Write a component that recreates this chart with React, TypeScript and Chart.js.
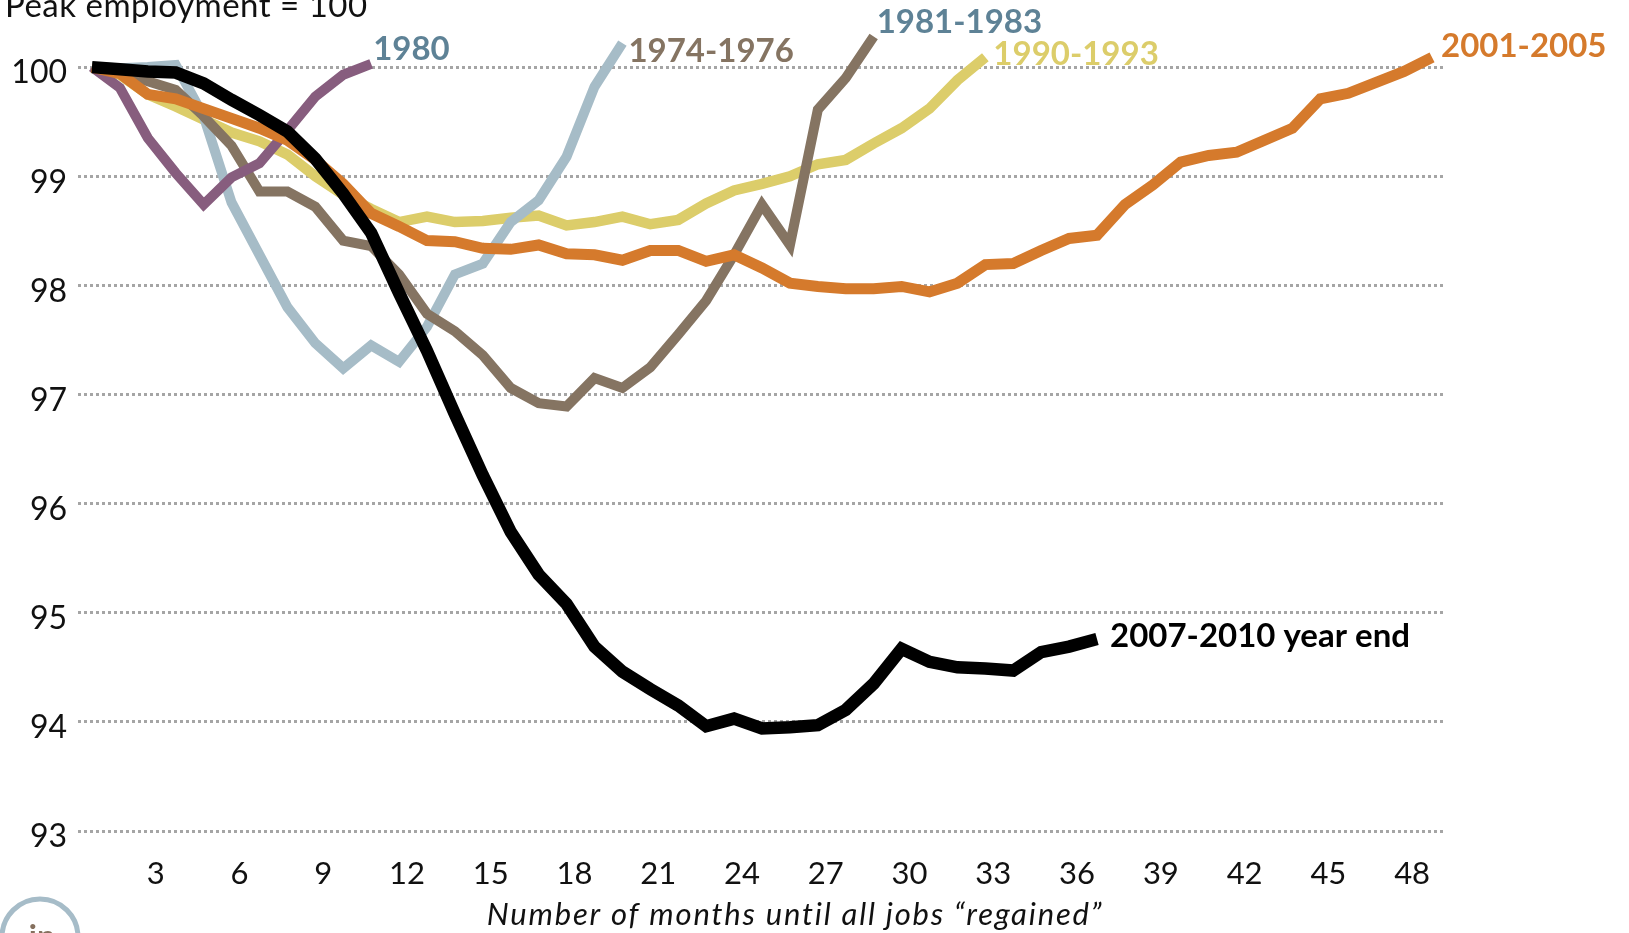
import React, { useEffect, useRef } from "react";
import { Chart, registerables } from "chart.js";

Chart.register(...registerables);

// ---------- data ----------
const months = [1, 2, 3, 4, 5, 6, 7, 8, 9, 10, 11, 12, 13, 14, 15, 16, 17, 18, 19, 20, 21, 22, 23, 24, 25, 26, 27, 28, 29, 30, 31, 32, 33, 34, 35, 36, 37, 38, 39, 40, 41, 42, 43, 44, 45, 46, 47, 48, 49];
const xTickValues = [3, 6, 9, 12, 15, 18, 21, 24, 27, 30, 33, 36, 39, 42, 45, 48];
const yTickValues = [93, 94, 95, 96, 97, 98, 99, 100];

const rec2007 = [100, 99.98, 99.96, 99.95, 99.85, 99.7, 99.56, 99.41, 99.16, 98.84, 98.48, 97.93, 97.4, 96.82, 96.26, 95.74, 95.35, 95.08, 94.69, 94.46, 94.3, 94.15, 93.96, 94.03, 93.94, 93.95, 93.97, 94.11, 94.35, 94.67, 94.55, 94.5, 94.49, 94.47, 94.64, 94.69, 94.76];
const rec2001 = [100, 99.94, 99.75, 99.71, 99.62, 99.53, 99.44, 99.33, 99.15, 98.93, 98.66, 98.54, 98.41, 98.4, 98.34, 98.33, 98.37, 98.29, 98.28, 98.23, 98.32, 98.32, 98.22, 98.28, 98.16, 98.02, 97.99, 97.97, 97.97, 97.99, 97.94, 98.02, 98.19, 98.2, 98.32, 98.43, 98.46, 98.74, 98.92, 99.13, 99.19, 99.22, 99.33, 99.44, 99.71, 99.76, 99.86, 99.96, 100.09];
const rec1980 = [100, 99.81, 99.35, 99.03, 98.74, 98.99, 99.12, 99.42, 99.73, 99.93, 100.03];
const rec1981 = [100, 99.95, 99.87, 99.79, 99.55, 99.28, 98.86, 98.86, 98.72, 98.41, 98.36, 98.1, 97.74, 97.58, 97.36, 97.06, 96.92, 96.89, 97.15, 97.06, 97.25, 97.55, 97.86, 98.28, 98.74, 98.37, 99.61, 99.9, 100.28];
const rec1974 = [100, 99.99, 100.0, 100.02, 99.55, 98.76, 98.28, 97.8, 97.47, 97.24, 97.45, 97.3, 97.62, 98.1, 98.2, 98.58, 98.78, 99.18, 99.82, 100.22];
const rec1990 = [100, 99.93, 99.75, 99.64, 99.52, 99.4, 99.32, 99.2, 99.0, 98.83, 98.7, 98.58, 98.63, 98.58, 98.59, 98.62, 98.64, 98.55, 98.58, 98.63, 98.56, 98.6, 98.75, 98.87, 98.93, 99.0, 99.11, 99.15, 99.3, 99.44, 99.62, 99.88, 100.09];

const seriesNames = ["2007-2010 year end", "2001-2005", "1980", "1981-1983", "1974-1976", "1990-1993"];
const seriesValues = [rec2007, rec2001, rec1980, rec1981, rec1974, rec1990];

// ---------- styles ----------
const lineColors = ["#000000", "#d57a2c", "#875d7e", "#857462", "#a6bcc7", "#dccd6a"];
const lineWidths = [12.5, 11, 10, 10, 10, 10.5];
const labelColors = ["#000000", "#d57a2c", "#5e8296", "#5e8296", "#857462", "#dccd6a"];
// label offset from the series end point (px): [dx, dy to baseline]
const labelOffsets: [number, number][] = [
  [13, 8],
  [9, -0.5],
  [2, -3.7],
  [3, -3.2],
  [6, 18.7],
  [8, 8],
];

const FONT = "Lato, 'Noto Sans', sans-serif";

const textPlugin = {
  id: "customText",
  afterDraw(chart: any) {
    const ctx = chart.ctx;
    const xs = chart.scales.x;
    const ys = chart.scales.y;
    const area = chart.chartArea;
    ctx.save();
    // series labels
    ctx.textAlign = "left";
    ctx.textBaseline = "alphabetic";
    ctx.font = `bold 33px ${FONT}`;
    seriesValues.forEach((vals, i) => {
      const last = vals.length - 1;
      const px = xs.getPixelForValue(months[last]);
      const py = ys.getPixelForValue(vals[last]);
      ctx.fillStyle = labelColors[i];
      ctx.fillText(seriesNames[i], px + labelOffsets[i][0], py + labelOffsets[i][1]);
    });
    // top-left unit note
    ctx.font = `33px ${FONT}`;
    ctx.fillStyle = "#111111";
    (ctx as any).letterSpacing = "0.5px";
    ctx.fillText("Peak employment = 100", 5, 17);
    // x axis title
    ctx.font = `italic 31px ${FONT}`;
    (ctx as any).letterSpacing = "1.8px";
    ctx.textAlign = "center";
    ctx.fillText("Number of months until all jobs \u201cregained\u201d", (area.left + area.right) / 2 + 33, 925);
    (ctx as any).letterSpacing = "0px";
    // logo
    ctx.beginPath();
    ctx.arc(40, 937, 38, 0, Math.PI * 2);
    ctx.lineWidth = 5;
    ctx.strokeStyle = "#a6bcc8";
    ctx.stroke();
    ctx.font = `bold 32px ${FONT}`;
    ctx.fillStyle = "#85705e";
    ctx.fillText("ip", 42, 948);
    ctx.restore();
  },
};

export default function App() {
  const ref = useRef<HTMLCanvasElement | null>(null);

  useEffect(() => {
    if (!ref.current) return;
    const datasets = seriesValues.map((vals, i) => ({
      label: seriesNames[i],
      data: vals.map((v, j) => ({ x: months[j], y: v })),
      borderColor: lineColors[i],
      backgroundColor: lineColors[i],
      borderWidth: lineWidths[i],
      pointRadius: 0,
      tension: 0,
      borderJoinStyle: "miter" as const,
      borderCapStyle: "butt" as const,
      fill: false,
      clip: false as any,
    }));

    const chart = new Chart(ref.current, {
      type: "line",
      data: { datasets },
      options: {
        animation: false,
        responsive: false,
        layout: { padding: { top: 18, right: 183, left: 0, bottom: 0 } },
        plugins: { legend: { display: false }, tooltip: { enabled: false }, title: { display: false } },
        scales: {
          x: {
            type: "linear",
            min: 0.5,
            max: 49.5,
            afterBuildTicks: (scale: any) => {
              scale.ticks = xTickValues.map((v) => ({ value: v }));
            },
            afterFit: (scale: any) => {
              scale.height = 102;
              scale.paddingLeft = 0;
              scale.paddingRight = 0;
            },
            grid: { display: false, drawTicks: false },
            border: { display: false },
            ticks: {
              padding: 24,
              labelOffset: 8,
              maxRotation: 0,
              autoSkip: false,
              color: "#111111",
              font: { family: FONT, size: 31 },
            },
          },
          y: {
            type: "linear",
            min: 93,
            max: 100.45,
            afterBuildTicks: (scale: any) => {
              scale.ticks = yTickValues.map((v) => ({ value: v }));
            },
            afterFit: (scale: any) => {
              scale.width = 78;
              scale.paddingTop = 0;
              scale.paddingBottom = 0;
            },
            grid: {
              color: "#a5a5a5",
              lineWidth: 3,
              drawTicks: false,
            },
            border: { display: false, dash: [3, 3] },
            ticks: {
              padding: 11,
              labelOffset: 6,
              color: "#111111",
              font: { family: FONT, size: 32 },
            },
          },
        },
      },
      plugins: [textPlugin],
    });
    return () => chart.destroy();
  }, []);

  return (
    <div style={{ position: "absolute", left: 0, top: 0, width: 1629, height: 933, background: "#ffffff" }}>
      <canvas ref={ref} width={1629} height={933} />
    </div>
  );
}
